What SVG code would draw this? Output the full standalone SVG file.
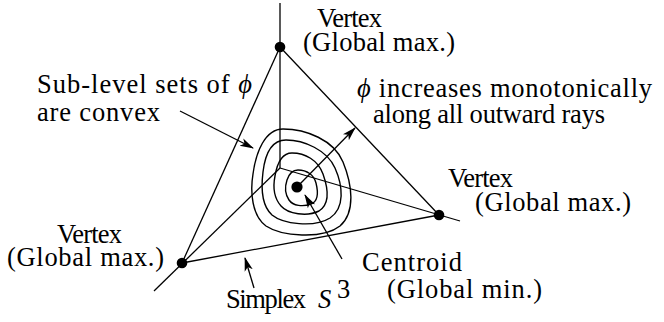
<svg xmlns="http://www.w3.org/2000/svg" width="664" height="322" viewBox="0 0 664 322">
<style>
.ln{stroke:#000;stroke-width:1.3;fill:none}
.ct{stroke:#000;stroke-width:1.4;fill:none}
.t{font-family:"Liberation Serif","DejaVu Serif",serif;font-size:26.5px;fill:#000}
.it{font-style:italic}
</style>
<defs>
<marker id="ah" markerWidth="14" markerHeight="10" refX="13" refY="5" orient="auto" markerUnits="userSpaceOnUse">
<path d="M0,0.8 L14,5 L0,9.2 L3.5,5 Z" fill="#000"/>
</marker>
</defs>
<g id="connectors">
<line class="ln" x1="280" y1="3" x2="280" y2="168"/>
<line class="ln" x1="280" y1="168" x2="460" y2="221"/>
<line class="ln" x1="280" y1="168" x2="154" y2="291"/>
<line class="ln" x1="280" y1="47" x2="182" y2="263"/>
<line class="ln" x1="280" y1="47" x2="439" y2="215"/>
<line class="ln" x1="182" y1="263" x2="439" y2="215"/>
<line class="ln" x1="180" y1="111" x2="253" y2="148" marker-end="url(#ah)"/>
<line class="ln" x1="297" y1="187" x2="355" y2="128" marker-end="url(#ah)"/>
<line class="ln" x1="342" y1="259" x2="305" y2="195" marker-end="url(#ah)"/>
<line class="ln" x1="254" y1="288" x2="245" y2="258" marker-end="url(#ah)"/>
</g>
<g id="contours">
<path class="ct" d="M283,129 C306,129 334,140 343,162 C352,184 356,212 340,226 C322,240 281,236 266,226 C252,216 250,192 253,174 C256,152 265,129 283,129 Z"/>
<path class="ct" d="M286,140 C304,140 327,150 335,168 C343,186 345,208 330,218 C314,228 283,224 272,215 C262,206 261,188 263,172 C265,155 271,140 286,140 Z"/>
<path class="ct" d="M292,153 C305,153 318,160 323,174 C328,188 330,204 319,211 C307,217 288,214 281,206 C274,198 273,186 275,176 C277,164 281,153 292,153 Z"/>
<path class="ct" d="M298,170 C307,170 314,175 316,183 C318,191 319,201 311,204 C303,207 293,206 289,200 C285,194 285,186 287,180 C289,174 292,170 298,170 Z"/>
</g>
<g id="v-top"><circle cx="280" cy="47" r="5.3"/><text class="t" x="317" y="27" textLength="65">Vertex</text><text class="t" x="303" y="51" textLength="152">(Global max.)</text></g>
<g id="v-right"><circle cx="439" cy="215" r="5.3"/><text class="t" x="448" y="187" textLength="65">Vertex</text><text class="t" x="475" y="211" textLength="156">(Global max.)</text></g>
<g id="v-left"><circle cx="182" cy="263" r="5.3"/><text class="t" x="57" y="243" textLength="65">Vertex</text><text class="t" x="7" y="266" textLength="157">(Global max.)</text></g>
<g id="centroid"><circle cx="297" cy="187" r="5.6"/><text class="t" x="362" y="271" textLength="100">Centroid</text><text class="t" x="387" y="298" textLength="155">(Global min.)</text></g>
<g id="sublevel"><text class="t" x="37" y="93" textLength="215">Sub-level sets of <tspan class="it">ϕ</tspan></text><text class="t" x="37" y="121" textLength="123">are convex</text></g>
<g id="increases"><text class="t" x="357" y="97" textLength="295"><tspan class="it">ϕ</tspan> increases monotonically</text><text class="t" x="373" y="123" textLength="232">along all outward rays</text></g>
<g id="simplex"><text class="t" x="226" y="308" textLength="80">Simplex</text><text class="t it" x="318" y="308">S</text><text class="t" x="337" y="298" font-size="16">3</text></g>
</svg>
